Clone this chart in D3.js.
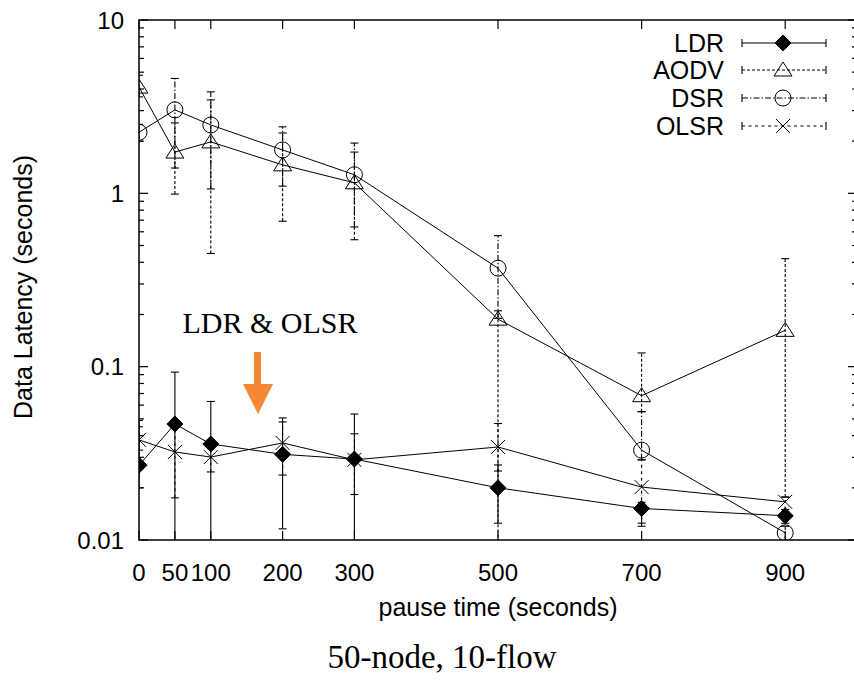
<!DOCTYPE html>
<html>
<head>
<meta charset="utf-8">
<script src="https://cdn.jsdelivr.net/npm/d3@7"></script>
<style>
  body { margin: 0; background: #fff; }
  svg { display: block; }
</style>
</head>
<body>
<div id="plot"></div>
<script>
// pause time (seconds)
const pauseTimes = [0, 50, 100, 200, 300, 500, 700, 900];

// latency per protocol, with error bar ends
const ldr      = [0.027, 0.0467, 0.0358, 0.0312, 0.0293, 0.0200, 0.0152, 0.0138];
const ldrLow   = [0.020, 0.005, 0.005, 0.0116, 0.005, 0.0125, 0.0125, 0.0125];
const ldrHigh  = [0.049, 0.093, 0.063, 0.0506, 0.0533, 0.0271, 0.0165, 0.0150];

const aodv     = [4.1, 1.73, 1.98, 1.46, 1.15, 0.188, 0.068, 0.162];
const aodvLow  = [3.6, 0.99, 0.45, 0.69, 0.54, 0.005, 0.055, 0.0177];
const aodvHigh = [4.8, 2.55, 3.46, 2.23, 1.73, 0.21, 0.12, 0.42];

const dsr      = [2.25, 3.03, 2.48, 1.78, 1.28, 0.37, 0.033, 0.0110];
const dsrLow   = [2.0, 1.40, 1.06, 1.10, 0.64, 0.19, 0.029, 0.0098];
const dsrHigh  = [2.5, 4.6, 3.85, 2.42, 1.95, 0.57, 0.055, 0.012];

const olsr     = [0.0378, 0.0322, 0.0301, 0.0363, 0.029, 0.0344, 0.0202, 0.0166];
const olsrLow  = [0.033, 0.0175, 0.0247, 0.0237, 0.0183, 0.025, 0.012, 0.015];
const olsrHigh = [0.045, 0.045, 0.036, 0.048, 0.041, 0.047, 0.029, 0.0177];

const xTicks = [0, 50, 100, 200, 300, 500, 700, 900];
const yTicks = [0.01, 0.1, 1, 10];
const yTickLabels = ["0.01", "0.1", "1", "10"];

const series = [
  { name: "LDR",  v: ldr,  lo: ldrLow,  hi: ldrHigh,  dash: null,      marker: "diamond" },
  { name: "AODV", v: aodv, lo: aodvLow, hi: aodvHigh, dash: "3,2",     marker: "triangle" },
  { name: "DSR",  v: dsr,  lo: dsrLow,  hi: dsrHigh,  dash: "6,2,1.5,2", marker: "circle" },
  { name: "OLSR", v: olsr, lo: olsrLow, hi: olsrHigh, dash: "3,3.5",   marker: "cross" }
];

const W = 854, H = 680;
const mLeft = 139, mTop = 20, mBottom = 540, mRight = 857;
const font = "'Liberation Sans', Arial, Helvetica, sans-serif";
const serif = "'Liberation Serif', 'Times New Roman', serif";

const x = d3.scaleLinear().domain([0, 1000]).range([mLeft, mRight]);
const y = d3.scaleLog().domain([0.01, 10]).range([mBottom, mTop]);

const svg = d3.select("#plot").append("svg")
  .attr("width", W).attr("height", H);

svg.append("defs").append("clipPath").attr("id", "clip")
  .append("rect").attr("x", mLeft).attr("y", mTop)
  .attr("width", mRight - mLeft).attr("height", mBottom - mTop);

// frame
svg.append("rect")
  .attr("x", mLeft).attr("y", mTop)
  .attr("width", mRight - mLeft).attr("height", mBottom - mTop)
  .attr("fill", "none").attr("stroke", "#000").attr("stroke-width", 1.5);

// y ticks (major + minor), both sides, inward
const minor = [];
[0.01, 0.1, 1].forEach(d => { for (let k = 2; k <= 9; k++) minor.push(d * k); });
const ticksG = svg.append("g").attr("stroke", "#000").attr("stroke-width", 1.2);
yTicks.forEach(t => {
  ticksG.append("line").attr("x1", mLeft).attr("x2", mLeft + 9).attr("y1", y(t)).attr("y2", y(t));
  ticksG.append("line").attr("x1", mRight).attr("x2", mRight - 9).attr("y1", y(t)).attr("y2", y(t));
});
minor.forEach(t => {
  ticksG.append("line").attr("x1", mLeft).attr("x2", mLeft + 5).attr("y1", y(t)).attr("y2", y(t));
  ticksG.append("line").attr("x1", mRight).attr("x2", mRight - 5).attr("y1", y(t)).attr("y2", y(t));
});
xTicks.forEach(t => {
  ticksG.append("line").attr("x1", x(t)).attr("x2", x(t)).attr("y1", mBottom).attr("y2", mBottom - 9);
  ticksG.append("line").attr("x1", x(t)).attr("x2", x(t)).attr("y1", mTop).attr("y2", mTop + 9);
});

// tick labels
svg.append("g").selectAll("text").data(yTicks).enter().append("text")
  .attr("x", 124).attr("y", d => y(d))
  .attr("dy", "0.36em")
  .attr("text-anchor", "end")
  .attr("font-family", font).attr("font-size", 24)
  .text((d, i) => yTickLabels[i]);

svg.append("g").selectAll("text").data(xTicks).enter().append("text")
  .attr("x", d => x(d)).attr("y", 581)
  .attr("text-anchor", "middle")
  .attr("font-family", font).attr("font-size", 24)
  .text(d => d);

// axis titles
svg.append("text")
  .attr("transform", "translate(32,287) rotate(-90)")
  .attr("text-anchor", "middle")
  .attr("font-family", font).attr("font-size", 25)
  .text("Data Latency (seconds)");

svg.append("text")
  .attr("x", 498).attr("y", 616)
  .attr("text-anchor", "middle")
  .attr("font-family", font).attr("font-size", 25)
  .text("pause time (seconds)");

svg.append("text")
  .attr("x", 442).attr("y", 668)
  .attr("text-anchor", "middle")
  .attr("font-family", serif).attr("font-size", 33)
  .text("50-node, 10-flow");

// marker shapes
function marker(g, type, cx, cy) {
  if (type === "diamond") {
    g.append("path").attr("d", `M${cx},${cy - 8}L${cx + 8},${cy}L${cx},${cy + 8}L${cx - 8},${cy}Z`)
      .attr("fill", "#000").attr("stroke", "#000");
  } else if (type === "triangle") {
    g.append("path").attr("d", `M${cx},${cy - 8}L${cx + 9},${cy + 6}L${cx - 9},${cy + 6}Z`)
      .attr("fill", "none").attr("stroke", "#000").attr("stroke-width", 1);
  } else if (type === "circle") {
    g.append("circle").attr("cx", cx).attr("cy", cy).attr("r", 8)
      .attr("fill", "none").attr("stroke", "#000").attr("stroke-width", 1);
  } else {
    g.append("path").attr("d", `M${cx - 7},${cy - 7}L${cx + 7},${cy + 7}M${cx - 7},${cy + 7}L${cx + 7},${cy - 7}`)
      .attr("stroke", "#000").attr("stroke-width", 1);
  }
}

const plot = svg.append("g").attr("clip-path", "url(#clip)");
const line = d3.line().x((d, i) => x(pauseTimes[i])).y(d => y(d));

series.forEach(s => {
  // error bars
  const eb = plot.append("g").attr("stroke", "#000").attr("stroke-width", 1.1);
  pauseTimes.forEach((p, i) => {
    const px = x(p);
    eb.append("line").attr("x1", px).attr("x2", px).attr("y1", y(s.lo[i])).attr("y2", y(s.hi[i]))
      .attr("stroke-dasharray", s.dash);
    eb.append("line").attr("x1", px - 4).attr("x2", px + 4).attr("y1", y(s.lo[i])).attr("y2", y(s.lo[i]));
    eb.append("line").attr("x1", px - 4).attr("x2", px + 4).attr("y1", y(s.hi[i])).attr("y2", y(s.hi[i]));
  });
  // connecting line
  plot.append("path").datum(s.v).attr("d", line)
    .attr("fill", "none").attr("stroke", "#000").attr("stroke-width", 1);
});
series.forEach(s => {
  const mg = plot.append("g");
  s.v.forEach((v, i) => marker(mg, s.marker, x(pauseTimes[i]), y(v)));
});

// legend
const legend = svg.append("g");
const legendY = [43, 70, 98, 126];
series.forEach((s, i) => {
  const ly = legendY[i];
  legend.append("text")
    .attr("x", 724).attr("y", ly).attr("dy", "0.36em")
    .attr("text-anchor", "end")
    .attr("font-family", font).attr("font-size", 25)
    .text(s.name);
  const g = legend.append("g").attr("stroke", "#000").attr("stroke-width", 1.1);
  g.append("line").attr("x1", 742).attr("x2", 826).attr("y1", ly).attr("y2", ly)
    .attr("stroke-dasharray", s.dash);
  g.append("line").attr("x1", 742).attr("x2", 742).attr("y1", ly - 4).attr("y2", ly + 4);
  g.append("line").attr("x1", 826).attr("x2", 826).attr("y1", ly - 4).attr("y2", ly + 4);
  marker(legend, s.marker, 783, ly);
});

// annotation
svg.append("text")
  .attr("x", 270).attr("y", 333)
  .attr("text-anchor", "middle")
  .attr("font-family", serif).attr("font-size", 30)
  .text("LDR & OLSR");

svg.append("rect").attr("x", 254).attr("y", 352).attr("width", 7).attr("height", 34).attr("fill", "#f48733");
svg.append("path").attr("d", "M243,384L273,384L258,414Z").attr("fill", "#f48733");
</script>
</body>
</html>
